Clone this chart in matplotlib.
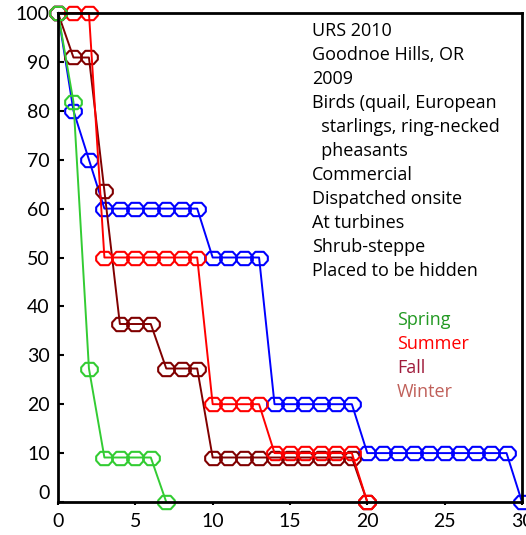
import matplotlib
matplotlib.use("Agg")
import matplotlib.pyplot as plt
from matplotlib.path import Path
import matplotlib.transforms as mtransforms

plt.rcParams['font.family'] = ['Lato', 'DejaVu Sans']

# ---- data ----
spring_x = [0, 1, 2, 3, 4, 5, 6, 7]
spring_y = [100, 81.8, 27.3, 9.1, 9.1, 9.1, 9.1, 0]

summer_x = list(range(0, 21))
summer_y = [100, 100, 100, 50, 50, 50, 50, 50, 50, 50,
            20, 20, 20, 20, 10, 10, 10, 10, 10, 10, 0]

fall_x = list(range(0, 21))
fall_y = [100, 90.9, 90.9, 63.6, 36.4, 36.4, 36.4, 27.3, 27.3, 27.3,
          9.1, 9.1, 9.1, 9.1, 9.1, 9.1, 9.1, 9.1, 9.1, 9.1, 0]

blue_x = list(range(0, 31))
blue_y = [100, 80, 70, 60, 60, 60, 60, 60, 60, 60,
          50, 50, 50, 50, 20, 20, 20, 20, 20, 20,
          10, 10, 10, 10, 10, 10, 10, 10, 10, 10, 0]

xticks = [0, 5, 10, 15, 20, 25, 30]
yticks = [0, 10, 20, 30, 40, 50, 60, 70, 80, 90, 100]

info_lines = ["URS 2010", "Goodnoe Hills, OR", "2009", "Birds (quail, European",
              "  starlings, ring-necked", "  pheasants", "Commercial",
              "Dispatched onsite", "At turbines", "Shrub-steppe", "Placed to be hidden"]
legend_labels = ["Spring", "Summer", "Fall", "Winter"]
legend_colors = ["#229922", "#ff0000", "#a01c3c", "#c0605a"]

W, H = 526, 535
fig = plt.figure(figsize=(W / 100, H / 100), dpi=100)
ax = fig.add_axes([58 / W, 1 - 502 / H, (522 - 58) / W, (502 - 13) / H])

# octagon-like marker, wider than tall
verts = [(-1.0, 0.25), (-0.5, 0.8), (0.5, 0.8), (1.0, 0.25), (1.0, -0.25),
         (0.5, -0.8), (-0.5, -0.8), (-1.0, -0.25), (-1.0, 0.25)]
oct_marker = Path(verts, closed=True)

common = dict(marker=oct_marker, markersize=12, markerfacecolor='none',
              markeredgewidth=1.5, linewidth=1.4, clip_on=False)
ax.plot(blue_x, blue_y, color='#0000ff', **common)
ax.plot(fall_x, fall_y, color='#800000', **common)
ax.plot(summer_x, summer_y, color='#ff0000', **common)
ax.plot(spring_x, spring_y, color='#33cc33', **common)

ax.set_xlim(0, 30)
ax.set_ylim(0, 100)
ax.set_xticks(xticks)
ax.set_yticks(yticks)
ax.tick_params(axis='y', direction='in', length=4, width=1.5, labelsize=14, pad=6)
ax.tick_params(axis='x', direction='out', length=2, width=1.5, labelsize=14, pad=6)
for s in ax.spines.values():
    s.set_linewidth(2)

# shift the "0" y label up a bit as in reference
for lbl in ax.get_yticklabels():
    if lbl.get_text() == '0':
        lbl.set_transform(lbl.get_transform() + mtransforms.ScaledTranslation(0, 10 / 100, fig.dpi_scale_trans))

txtfont = ['Open Sans', 'DejaVu Sans']
y0 = 31
for i, t in enumerate(info_lines):
    fig.text(312 / W, 1 - (y0 + 24 * i) / H, t, fontsize=13, va='center', ha='left',
             color='black', family=txtfont)

ly0 = 320
for i, (t, c) in enumerate(zip(legend_labels, legend_colors)):
    fig.text(397 / W, 1 - (ly0 + 24 * i) / H, t, fontsize=13, va='center', ha='left',
             color=c, family=txtfont)

fig.savefig("out.png", dpi=100)
